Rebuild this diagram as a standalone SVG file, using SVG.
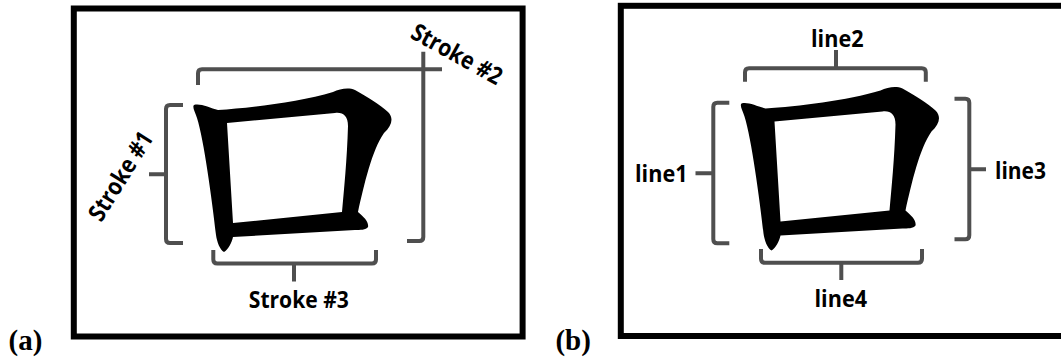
<svg xmlns="http://www.w3.org/2000/svg" width="1061" height="358" viewBox="0 0 1061 358">
  <style>
    .frame { fill: none; stroke: #000; stroke-width: 6; }
    .brace { fill: none; stroke: #4f4f4f; stroke-width: 4; stroke-linecap: butt; stroke-linejoin: round; }
    .lbl { font-family: "Open Sans", "DejaVu Sans", sans-serif; font-weight: 700; font-size: 24px; fill: #000; }
    .tag { font-family: "Liberation Serif", "Times New Roman", serif; font-weight: 700; font-size: 29px; fill: #000; }
    .glyph { fill: #000; fill-rule: evenodd; }
  </style>
  <defs>
    <!-- brush-drawn square character, outer contour with inner counter -->
    <path id="kou" class="glyph" d="M194,105 C200,103 210,108 218,110 C250,108 300,102 333,92 C340,89 348,87 355,90 C368,97 380,105 388,112 C394,118 392,126 384,133 C372,150 364,185 358,212 C364,217 369,222 368,227 C366,230 360,230 355,230 L233,237 C232,242 228,250 224,252 C220,250 217,242 216,235 C212,200 204,140 197,118 C195,112 192,107 194,105 Z M227,123 L335,113 C343,112 348,116 348,126 C347,160 344,190 342,212 L233,223 Z"/>
  </defs>

  <!-- panel (a): strokes -->
  <g id="panel-a">
    <rect class="frame" x="73.8" y="8.5" width="448.8" height="328"/>
    <text class="tag" x="8.5" y="350">(a)</text>
    <g id="char-a"><use href="#kou"/></g>
  </g>
  <g id="stroke1">
    <path class="brace" d="M183,105 H170 Q166,105 166,109 V239 Q166,243 170,243 H183 M149,174.3 H166"/>
    <text class="lbl" text-anchor="middle" transform="translate(120.5,176) rotate(-58)" x="0" y="8.5" textLength="100" lengthAdjust="spacingAndGlyphs">Stroke #1</text>
  </g>
  <g id="stroke2">
    <path class="brace" d="M198,85 V73.3 Q198,69.3 202,69.3 H442 M423.3,51.7 V237 Q423.3,241 419.3,241 H407"/>
    <text class="lbl" text-anchor="middle" transform="translate(457,54) rotate(29)" x="0" y="8.5" textLength="100" lengthAdjust="spacingAndGlyphs">Stroke #2</text>
  </g>
  <g id="stroke3">
    <path class="brace" d="M213.3,250 V259.5 Q213.3,263.5 217.3,263.5 H372 Q376,263.5 376,259.5 V250 M294,263.5 V281.5"/>
    <text class="lbl" text-anchor="middle" x="298.8" y="307.5" textLength="100" lengthAdjust="spacingAndGlyphs">Stroke #3</text>
  </g>

  <!-- panel (b): lines -->
  <g id="panel-b">
    <rect class="frame" x="620.8" y="5.8" width="460" height="330.2"/>
    <text class="tag" x="555.4" y="350">(b)</text>
    <g id="char-b" transform="translate(547.5,-1.5)"><use href="#kou"/></g>
  </g>
  <g id="line1">
    <path class="brace" d="M729.3,102.8 H717.3 Q713.3,102.8 713.3,106.8 V239.3 Q713.3,243.3 717.3,243.3 H729.3 M695.5,173.3 H713.3"/>
    <text class="lbl" x="635" y="181.7" textLength="52.5" lengthAdjust="spacingAndGlyphs">line1</text>
  </g>
  <g id="line2">
    <path class="brace" d="M745,81.7 V72.3 Q745,68.3 749,68.3 H921.8 Q925.8,68.3 925.8,72.3 V81.7 M836,68.3 V50"/>
    <text class="lbl" x="811" y="46.7" textLength="52.5" lengthAdjust="spacingAndGlyphs">line2</text>
  </g>
  <g id="line3">
    <path class="brace" d="M954.5,98.7 H965.3 Q969.3,98.7 969.3,102.7 V235.3 Q969.3,239.3 965.3,239.3 H954.5 M969.3,169.3 H986"/>
    <text class="lbl" x="995" y="179" textLength="51" lengthAdjust="spacingAndGlyphs">line3</text>
  </g>
  <g id="line4">
    <path class="brace" d="M761,249 V258.8 Q761,262.8 765,262.8 H918 Q922,262.8 922,258.8 V249 M841.3,262.8 V280"/>
    <text class="lbl" x="814.5" y="306.7" textLength="52.5" lengthAdjust="spacingAndGlyphs">line4</text>
  </g>
</svg>
